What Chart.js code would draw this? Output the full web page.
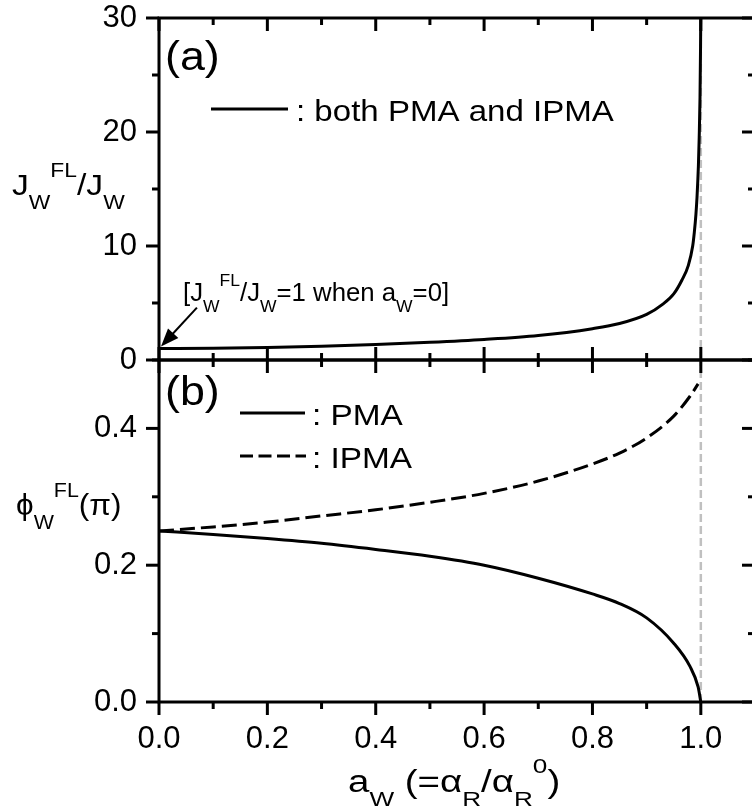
<!DOCTYPE html>
<html><head><meta charset="utf-8">
<script src="https://cdn.jsdelivr.net/npm/chart.js@4/dist/chart.umd.min.js"></script>
<style>
html,body{margin:0;padding:0;background:#fff;overflow:hidden;width:752px;height:810px;}
#wrap{position:relative;width:752px;height:810px;overflow:hidden;background:#fff;}
canvas{position:absolute;left:0;top:0;}
</style></head><body>
<div id="wrap"><canvas id="c1" width="770" height="810"></canvas><canvas id="c2" width="770" height="810"></canvas></div>
<script>
// ---------- data ----------
const aTop   = [0, 0.1, 0.2, 0.3, 0.4, 0.5, 0.6, 0.7, 0.8, 0.85, 0.9, 0.93, 0.95, 0.965, 0.977, 0.985, 0.988, 0.991, 0.993, 0.9955, 0.997, 0.9985, 0.9995, 1.0];
const jRatio = [1.0, 1.03, 1.1, 1.2, 1.35, 1.55, 1.8, 2.15, 2.75, 3.2, 4.0, 4.9, 5.8, 7.0, 8.3, 10.0, 11.2, 12.8, 14.3, 17.0, 19.5, 23.0, 27.5, 31.0];

const aPMA   = [0, 0.1, 0.2, 0.3, 0.4, 0.5, 0.6, 0.7, 0.8, 0.85, 0.9, 0.95, 0.98, 0.995, 1.0];
const phiPMA = [0.25, 0.245, 0.239, 0.232, 0.223, 0.213, 0.2, 0.181, 0.158, 0.144, 0.123, 0.086, 0.052, 0.022, 0.0];

const aIPMA   = [0, 0.1, 0.2, 0.3, 0.4, 0.5, 0.6, 0.7, 0.8, 0.85, 0.9, 0.95, 0.98, 0.995];
const phiIPMA = [0.25, 0.256, 0.263, 0.272, 0.281, 0.292, 0.305, 0.323, 0.348, 0.364, 0.386, 0.418, 0.447, 0.465];

const wallX = 1.0; // dashed guide at a_W = 1

const xMajor = [0, 0.2, 0.4, 0.6, 0.8, 1.0];
const xMinor = [0.1, 0.3, 0.5, 0.7, 0.9];
const xLabels = ['0.0', '0.2', '0.4', '0.6', '0.8', '1.0'];

const yTopMajor = [0, 10, 20, 30];
const yTopMinor = [5, 15, 25];
const yTopLabels = ['0', '10', '20', '30'];

const yBotMajor = [0, 0.2, 0.4];
const yBotMinor = [0.1, 0.3, 0.5];
const yBotLabels = ['0.0', '0.2', '0.4'];

// ---------- helpers ----------
const FONT = '"Liberation Sans", Arial, Helvetica, sans-serif';
const DASH = [15, 6];

function rich(ctx, x, y, segs, size, sx) {
  // segs: [text, kind]  kind: 'n' normal, 'b' subscript, 'p' superscript
  ctx.save();
  ctx.translate(x, y);
  ctx.scale(sx || 1.12, 1);
  ctx.fillStyle = '#000';
  ctx.textBaseline = 'alphabetic';
  ctx.textAlign = 'left';
  let cx = 0;
  for (const [t, k] of segs) {
    const s = k === 'n' ? size : size * 0.68;
    const dy = k === 'b' ? size * 0.45 : (k === 'p' ? -size * 0.6 : 0);
    ctx.font = s + 'px ' + FONT;
    ctx.fillText(t, cx, dy);
    cx += ctx.measureText(t).width;
  }
  ctx.restore();
}

function noPad(s) { s.paddingTop = 0; s.paddingBottom = 0; s.paddingLeft = 0; s.paddingRight = 0; }

function framePlugin(sides, extra) {
  return {
    id: 'frameTicks',
    afterDatasetsDraw(chart) {
      const {ctx, chartArea: a, scales: {x, y}} = chart;
      ctx.save();
      ctx.strokeStyle = '#000';
      ctx.lineWidth = 3;
      ctx.lineCap = 'butt';
      const seg = (x1, y1, x2, y2) => { ctx.beginPath(); ctx.moveTo(x1, y1); ctx.lineTo(x2, y2); ctx.stroke(); };
      const doX = (vals, L) => vals.forEach(v => {
        const px = x.getPixelForValue(v);
        if (sides.top === 'in') seg(px, a.top, px, a.top + L);
        if (sides.bottom === 'in') seg(px, a.bottom, px, a.bottom - L);
        if (sides.bottom === 'out') seg(px, a.bottom, px, a.bottom + L);
      });
      const doY = (vals, L) => vals.forEach(v => {
        const py = y.getPixelForValue(v);
        seg(a.left - L, py, a.left, py);
        seg(a.right - L, py, a.right, py);
      });
      doX(xMajor, 13); doX(xMinor, 7);
      doY(sides.yMajor, 13); doY(sides.yMinor, 7);
      ctx.strokeRect(a.left, a.top, a.right - a.left, a.bottom - a.top);
      ctx.restore();
      if (extra) extra(chart);
    }
  };
}

function baseDataset(xs, ys, dash) {
  return {
    data: xs.map((v, i) => ({x: v, y: ys[i]})),
    showLine: true, borderColor: '#000', borderWidth: 3, pointRadius: 0,
    cubicInterpolationMode: 'monotone', fill: false, borderDash: dash || [], order: 1
  };
}
function wallDataset(ymin, ymax) {
  return {
    data: [{x: wallX, y: ymin}, {x: wallX, y: ymax}],
    showLine: true, borderColor: '#c0c0c0', borderWidth: 2.5, pointRadius: 0,
    borderDash: [8, 4], fill: false, order: 5
  };
}
const tickFont = {family: FONT, size: 31};

// ---------- top panel (a) ----------
new Chart(document.getElementById('c1'), {
  type: 'scatter',
  data: {datasets: [baseDataset(aTop, jRatio), wallDataset(0, 30)]},
  options: {
    responsive: false, animation: false, events: [],
    layout: {autoPadding: false, padding: {left: 59, right: 15, top: 18, bottom: 450}},
    plugins: {legend: {display: false}, tooltip: {enabled: false}},
    scales: {
      x: {type: 'linear', min: 0, max: 1.1, display: false, afterFit: noPad},
      y: {type: 'linear', min: 0, max: 30,
          grid: {display: false, drawTicks: false}, border: {display: false},
          afterFit(s) { s.width = 100; noPad(s); },
          afterBuildTicks(s) { s.ticks = yTopMajor.map(v => ({value: v})); },
          ticks: {padding: 22, color: '#000', font: tickFont, callback: (v, i) => yTopLabels[i]}}
    }
  },
  plugins: [framePlugin({top: 'in', bottom: 'in', yMajor: yTopMajor, yMinor: yTopMinor}, (chart) => {
    const {ctx, scales: {x, y}} = chart;
    rich(ctx, 165, 70, [['(a)', 'n']], 40);
    ctx.save(); ctx.strokeStyle = '#000'; ctx.lineWidth = 3;
    ctx.beginPath(); ctx.moveTo(211, 109); ctx.lineTo(288, 109); ctx.stroke(); ctx.restore();
    rich(ctx, 296, 121, [[': both PMA and IPMA', 'n']], 29, 1.14);
    rich(ctx, 12, 195, [['J', 'n'], ['W', 'b'], ['FL', 'p'], ['/J', 'n'], ['W', 'b']], 30);
    rich(ctx, 183, 301, [['[J', 'n'], ['W', 'b'], ['FL', 'p'], ['/J', 'n'], ['W', 'b'], ['=1 when a', 'n'], ['W', 'b'], ['=0]', 'n']], 25, 1.03);
    // arrow pointing to (0, 1)
    const tx = x.getPixelForValue(0) + 2, ty = y.getPixelForValue(1) - 2;
    const sx = x.getPixelForValue(0.07), sy = y.getPixelForValue(4.6);
    const ang = Math.atan2(ty - sy, tx - sx);
    ctx.save(); ctx.strokeStyle = '#000'; ctx.fillStyle = '#000'; ctx.lineWidth = 2;
    ctx.beginPath(); ctx.moveTo(sx, sy); ctx.lineTo(tx - 14 * Math.cos(ang), ty - 14 * Math.sin(ang)); ctx.stroke();
    ctx.beginPath(); ctx.moveTo(tx, ty);
    ctx.lineTo(tx - 18 * Math.cos(ang) + 7 * Math.sin(ang), ty - 18 * Math.sin(ang) - 7 * Math.cos(ang));
    ctx.lineTo(tx - 18 * Math.cos(ang) - 7 * Math.sin(ang), ty - 18 * Math.sin(ang) + 7 * Math.cos(ang));
    ctx.closePath(); ctx.fill(); ctx.restore();
  })]
});

// ---------- bottom panel (b) ----------
new Chart(document.getElementById('c2'), {
  type: 'scatter',
  data: {datasets: [baseDataset(aPMA, phiPMA), baseDataset(aIPMA, phiIPMA, DASH), wallDataset(0, 0.5)]},
  options: {
    responsive: false, animation: false, events: [],
    layout: {autoPadding: false, padding: {left: 59, right: 15, top: 360, bottom: 48}},
    plugins: {legend: {display: false}, tooltip: {enabled: false}},
    scales: {
      x: {type: 'linear', min: 0, max: 1.1, position: 'bottom',
          grid: {display: false, drawTicks: false}, border: {display: false},
          afterFit(s) { s.height = 60; noPad(s); },
          afterBuildTicks(s) { s.ticks = xMajor.map(v => ({value: v})); },
          ticks: {padding: 19, color: '#000', font: tickFont, maxRotation: 0, autoSkip: false,
                  callback: (v, i) => xLabels[i]}},
      y: {type: 'linear', min: 0, max: 0.5,
          grid: {display: false, drawTicks: false}, border: {display: false},
          afterFit(s) { s.width = 100; noPad(s); },
          afterBuildTicks(s) { s.ticks = yBotMajor.map(v => ({value: v})); },
          ticks: {padding: 22, color: '#000', font: tickFont, callback: (v, i) => yBotLabels[i]}}
    }
  },
  plugins: [framePlugin({top: 'in', bottom: 'out', yMajor: yBotMajor, yMinor: yBotMinor}, (chart) => {
    const {ctx} = chart;
    rich(ctx, 165, 405, [['(b)', 'n']], 40);
    ctx.save(); ctx.strokeStyle = '#000'; ctx.lineWidth = 3;
    ctx.beginPath(); ctx.moveTo(240, 413); ctx.lineTo(305, 413); ctx.stroke();
    ctx.setLineDash([13, 5.5]);
    ctx.beginPath(); ctx.moveTo(240, 456); ctx.lineTo(306, 456); ctx.stroke();
    ctx.restore();
    rich(ctx, 312, 425, [[': PMA', 'n']], 29, 1.15);
    rich(ctx, 312, 468, [[': IPMA', 'n']], 29, 1.15);
    rich(ctx, 16, 515, [['\u03D5', 'n'], ['W', 'b'], ['FL', 'p'], ['(\u03C0)', 'n']], 30, 1.05);
    rich(ctx, 348, 792, [['a', 'n'], ['W', 'b'], [' (=\u03B1', 'n'], ['R', 'b'], ['/\u03B1', 'n'], ['R', 'b'], ['0', 'p'], [')', 'n']], 31, 1.24);
  })]
});
</script>
</body></html>
